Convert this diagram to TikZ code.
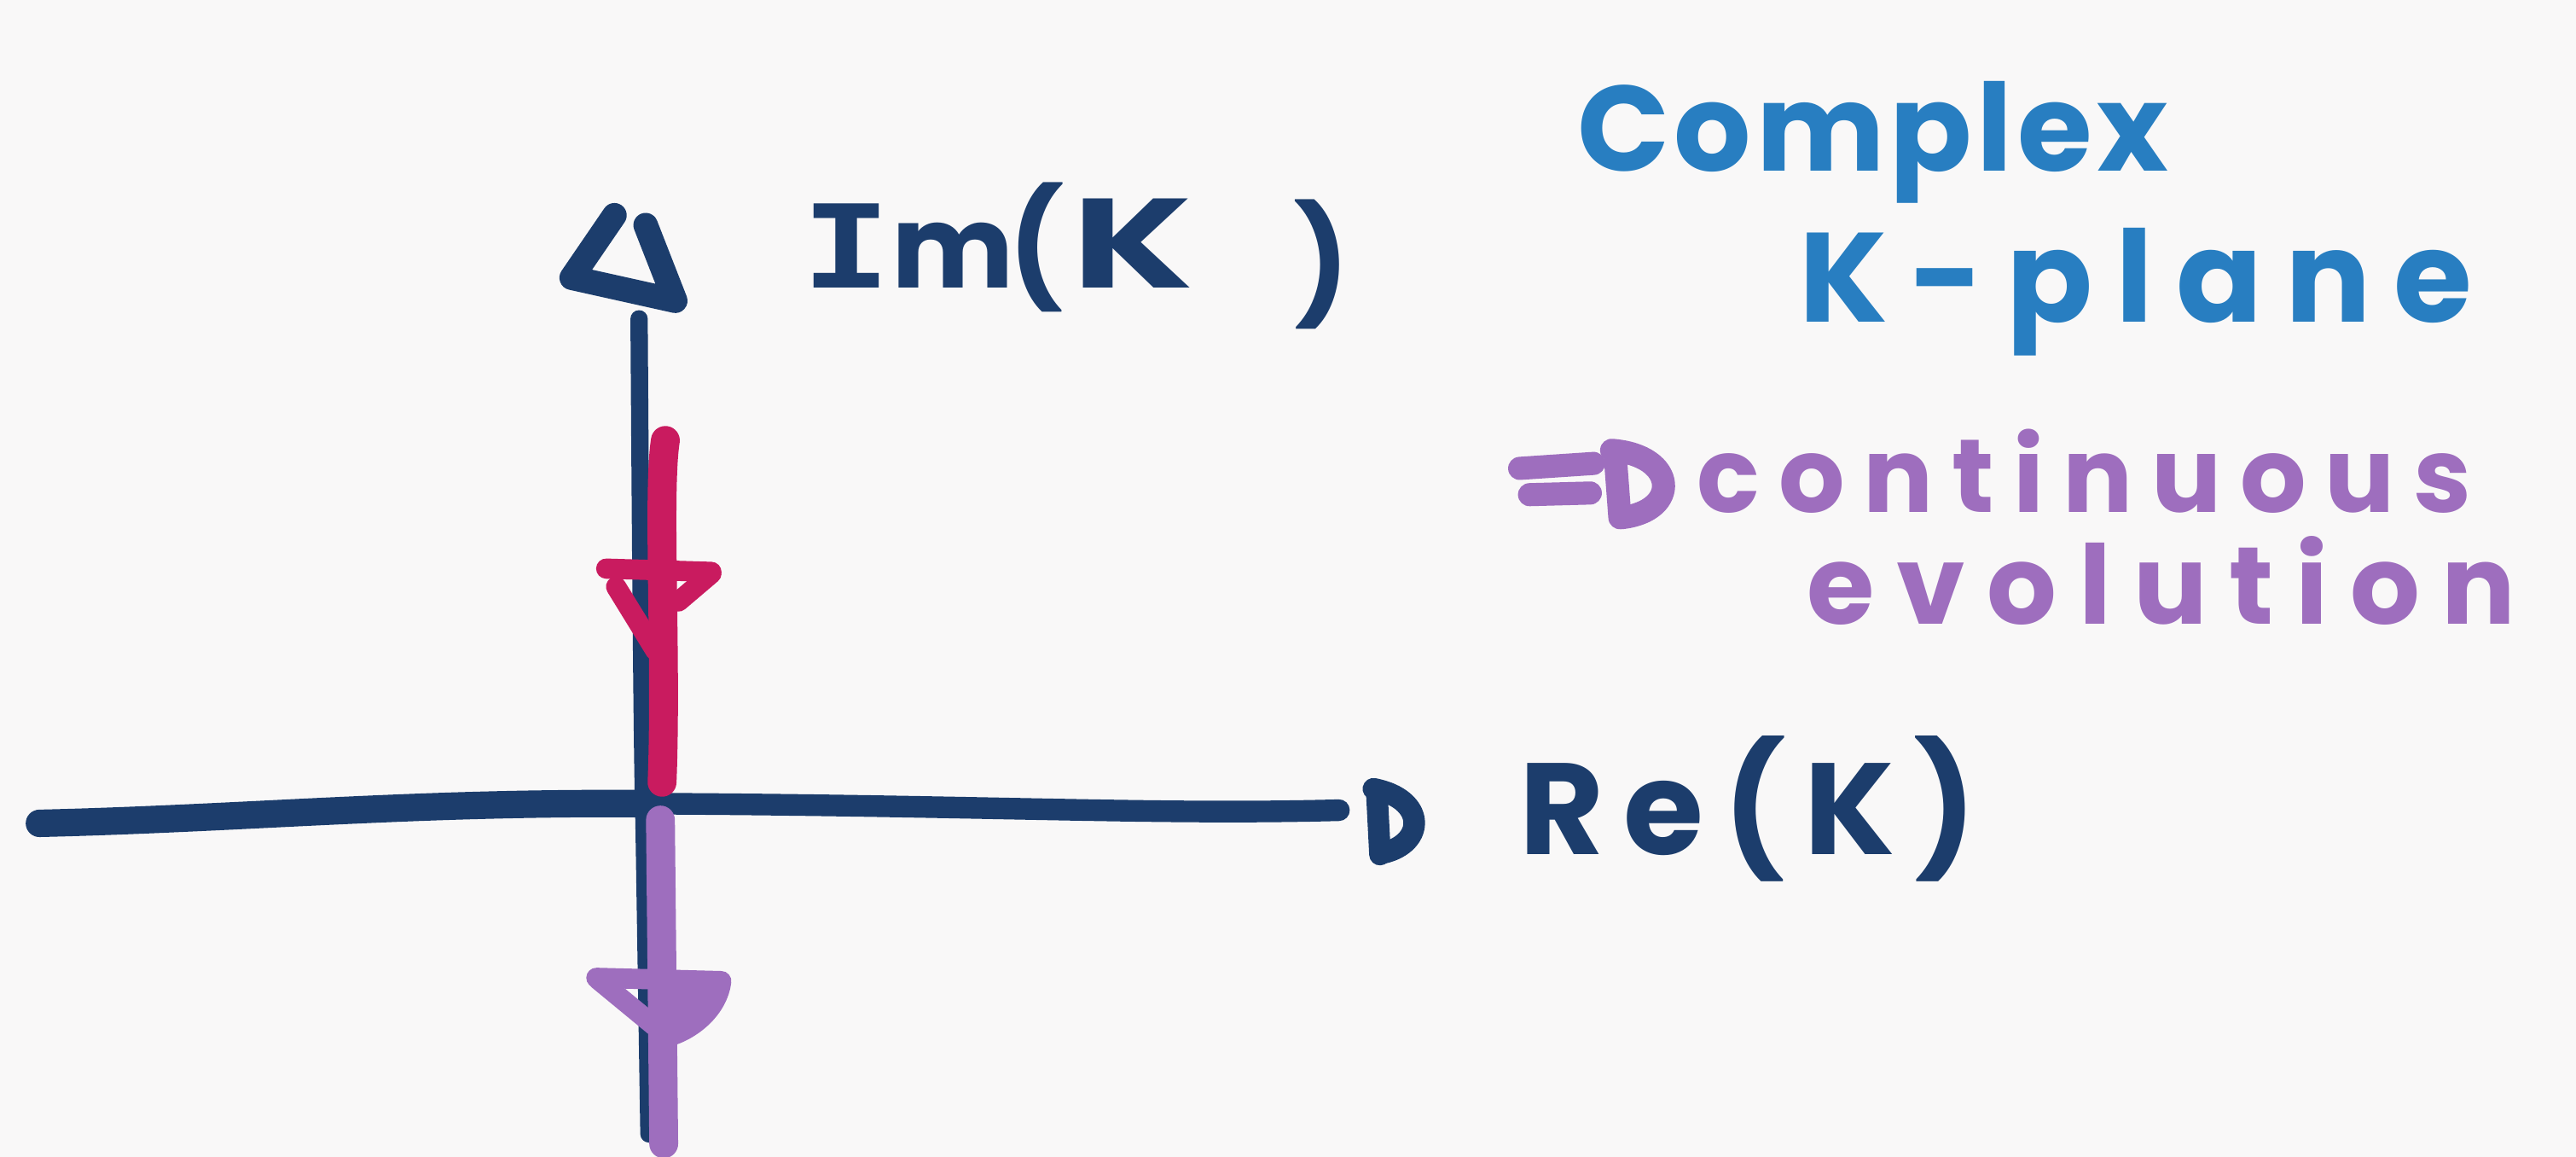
\documentclass[tikz,border=0pt]{standalone}
\usepackage{fontspec}
\usepackage{graphicx}
\setmainfont{Poppins}
\newfontfamily\serifcap{DejaVu Sans Mono}
\definecolor{paper}{RGB}{249,248,248}
\definecolor{navy}{RGB}{28,61,108}
\definecolor{skyink}{RGB}{40,126,193}
\definecolor{lilac}{RGB}{158,110,190}
\definecolor{crimson}{RGB}{201,27,95}
\tikzset{
  ink/.style={line cap=round,line join=round},
  axisline/.style={ink,draw=navy,line width=7pt},
  redstroke/.style={ink,draw=crimson,line width=10pt},
  purplestroke/.style={ink,draw=lilac,line width=10pt},
  hand/.style={inner sep=0pt,outer sep=0pt,anchor=base west,font=\bfseries},
}
\begin{document}
\begin{tikzpicture}[x=0.02cm,y=-0.02cm]
\fill[paper] (0,0) rectangle (1568,704);
\useasboundingbox (0,0) rectangle (1568,704);

% end points of the axes
\coordinate (reL) at (24,501);
\coordinate (reO) at (392,489);
\coordinate (reR) at (815,493);
\coordinate (imT) at (389,194);
\coordinate (imB) at (395,690);

% real axis: heavier on the left, lighter towards the tip
\draw[axisline,line width=9.5pt] (reL) .. controls (150,498) and (250,488) .. (reO);
\draw[axisline,line width=7.5pt] (reO) .. controls (600,490) and (700,496) .. (reR);
% imaginary axis
\draw[axisline,line width=6pt] (imT) .. controls (390,350) and (391,470) .. (392,500) -- (imB);

% open arrowhead on top of the imaginary axis
\draw[axisline,line width=8.5pt] (374,131) -- (348,169) -- (411,183) -- (393,137);
% D-shaped arrowhead at the end of the real axis
\draw[axisline,line width=7.5pt] (838,481) -- (840,520);
\draw[axisline,line width=7.5pt] (836,480) .. controls (868,486) and (868,513) .. (842,519);

% axis labels
\node[hand,text=navy,font=\bfseries\fontsize{40}{42}\selectfont] (imlab) at (488,175)
  {\scalebox{1.3}[1]{\serifcap\bfseries I}m\kern-2pt(\kern3pt\scalebox{1.5}[1.1]{K}\kern35pt\raisebox{-6pt}{)}};
\node[hand,text=navy,font=\bfseries\fontsize{45}{48}\selectfont\addfontfeatures{LetterSpace=15}] (relab) at (925,520) {Re(K)};

% red arrow running down the positive imaginary axis
\coordinate (rT) at (405,268);
\coordinate (rB) at (403,476);
\draw[redstroke] (rT) .. controls (400,300) and (406,400) .. (rB);
\draw[redstroke,line width=7pt] (369,346) -- (433,348);
\draw[redstroke,line width=7pt] (375,357) -- (399,396);
\draw[redstroke,line width=7pt] (433,349) -- (413,366);

% purple arrow running down the negative imaginary axis
\coordinate (pT) at (402,499);
\coordinate (pB) at (404,696);
\draw[purplestroke] (pT) -- (pB);
\fill[lilac] (402,596) -- (440,597) .. controls (438,615) and (421,628) .. (406,632) -- cycle;
\draw[purplestroke,line width=7pt] (363,595) -- (439,597) .. controls (437,614) and (421,627) .. (406,631);
\draw[purplestroke,line width=7pt] (364,596) -- (398,624);

% title
\node[hand,text=skyink,font=\bfseries\fontsize{42}{44}\selectfont\addfontfeatures{LetterSpace=4}] (title1) at (960,104) {Complex};
\node[hand,text=skyink,font=\bfseries\fontsize{44}{46}\selectfont\addfontfeatures{LetterSpace=18}] (title2) at (1095,196) {K-plane};

% implication arrow
\draw[purplestroke,line width=8pt] (925,285) -- (970,282);
\draw[purplestroke,line width=8pt] (931,301) -- (968,300);
\draw[purplestroke,line width=8pt] (983,275) -- (986,315);
\draw[purplestroke,line width=8pt] (981,274) .. controls (1021,277) and (1023,311) .. (987,315);

\node[hand,text=lilac,font=\bfseries\fontsize{36}{38}\selectfont\addfontfeatures{LetterSpace=18}] (cont) at (1033,312) {continuous};
\node[hand,text=lilac,font=\bfseries\fontsize{38}{40}\selectfont\addfontfeatures{LetterSpace=20}] (evo) at (1100,380) {evolution};
\end{tikzpicture}
\end{document}
